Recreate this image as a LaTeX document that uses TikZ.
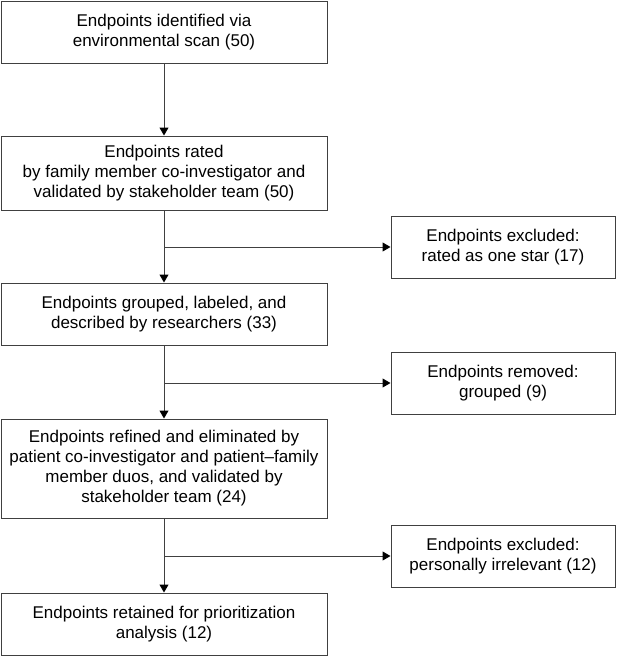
\documentclass[tikz,border=0pt]{standalone}
\usepackage{fontspec}
\setmainfont{Liberation Sans}
\usetikzlibrary{arrows.meta}
\begin{document}
\begin{tikzpicture}[x=1pt,y=-1pt,
  box/.style={draw=black!75,line width=1pt,align=center,font=\fontsize{17}{20}\selectfont,inner sep=0pt,anchor=center},
  mainbox/.style={box,minimum width=326pt},
  sidebox/.style={box,minimum width=224pt,minimum height=62pt},
  arr/.style={draw=black!75,line width=1pt,-{Triangle[width=9pt,length=8pt,fill=black,color=black]}},
  ln/.style={draw=black!75,line width=1pt}]
\useasboundingbox (0,0) rectangle (620,656);
\node[mainbox,minimum height=62pt] (b1) at (164,32) {Endpoints identified via\\environmental scan (50)};
\node[mainbox,minimum height=74pt] (b2) at (164,173) {Endpoints rated\\by family member co-investigator and\\validated by stakeholder team (50)};
\node[mainbox,minimum height=62pt] (b3) at (164,314) {Endpoints grouped, labeled, and\\described by researchers (33)};
\node[mainbox,minimum height=99pt] (b4) at (164,468.5) {Endpoints refined and eliminated by\\patient co-investigator and patient--family\\member duos, and validated by\\stakeholder team (24)};
\node[mainbox,minimum height=62pt] (b5) at (164,624) {Endpoints retained for prioritization\\analysis (12)};
\node[sidebox] (s1) at (503,247) {Endpoints excluded:\\rated as one star (17)};
\node[sidebox] (s2) at (503,383) {Endpoints removed:\\grouped (9)};
\node[sidebox] (s3) at (503,556) {Endpoints excluded:\\personally irrelevant (12)};
\coordinate (j1) at (b2.south |- s1.west);
\coordinate (j2) at (b3.south |- s2.west);
\coordinate (j3) at (b4.south |- s3.west);
\draw[arr] (b1) -- (b2);
\draw[arr] (b2) -- (b3);
\draw[arr] (b3) -- (b4);
\draw[arr] (b4) -- (b5);
\draw[arr] (j1) -- (s1.west);
\draw[arr] (j2) -- (s2.west);
\draw[arr] (j3) -- (s3.west);
\end{tikzpicture}
\end{document}
